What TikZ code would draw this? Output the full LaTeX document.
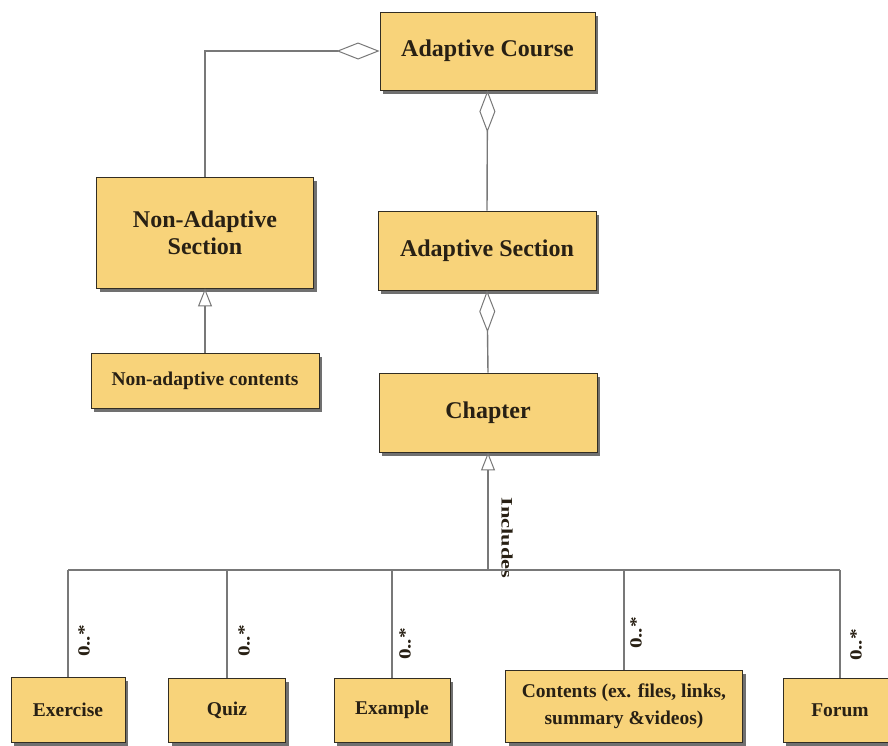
\documentclass[tikz,border=0pt]{standalone}
\usepackage{fontspec}
\setmainfont{Liberation Serif}
\usetikzlibrary{arrows.meta,shadows}
\definecolor{boxfill}{RGB}{248,211,122}
\definecolor{boxline}{RGB}{50,45,35}
\definecolor{wire}{RGB}{120,120,120}
\definecolor{ink}{RGB}{40,32,20}
\begin{document}
\begin{tikzpicture}[x=1pt,y=-1pt,
  umlbox/.style={draw=boxline, line width=0.9pt, fill=boxfill, align=center,
    text=ink, font=\bfseries, inner sep=2pt,
    drop shadow={shadow xshift=3pt, shadow yshift=-3.5pt, fill=black!80, opacity=0.7}},
  big/.style={font=\fontsize{24}{27}\selectfont\bfseries},
  small/.style={font=\fontsize{19.5}{23}\selectfont\bfseries},
  wireline/.style={draw=wire, line width=1.4pt},
  aggr/.style={wireline, -{Diamond[open, fill=white, length=43pt, width=17pt, line width=1pt]}},
  aggrstart/.style={wireline, {Diamond[open, fill=white, length=42pt, width=16pt, line width=1pt]}-},
  gen/.style={wireline, -{Triangle[open, fill=white, length=18pt, width=14pt, line width=1pt]}},
  mult/.style={rotate=90, xscale=1.25, text=ink, font=\fontsize{17}{19}\selectfont\bfseries, inner sep=1pt}
]
\useasboundingbox (0,0) rectangle (888,745);
\clip (0,0) rectangle (888,745);

% class boxes
\node[umlbox, big, minimum width=215pt, minimum height=78pt] (ac) at (487.5,51) {Adaptive Course};
\node[umlbox, big, minimum width=218pt, minimum height=79pt] (as) at (487,250.5) {Adaptive Section};
\node[umlbox, big, minimum width=218pt, minimum height=79pt] (ch) at (488,412.5) {Chapter};
\node[umlbox, big, minimum width=217pt, minimum height=111pt] (nas) at (205,232.5) {Non-Adaptive\\Section};
\node[umlbox, small, minimum width=228pt, minimum height=55pt] (nac) at (205,380.5) {Non-adaptive contents};

\node[umlbox, small, minimum width=114pt, minimum height=65pt] (ex) at (68,709.5) {Exercise};
\node[umlbox, small, minimum width=117pt, minimum height=64pt] (qz) at (227,710) {Quiz};
\node[umlbox, small, minimum width=116pt, minimum height=64pt] (eg) at (392,710) {Example};
\node[umlbox, small, minimum width=237pt, minimum height=72pt] (ct) at (624,706) {Contents (ex. files, links,\\[4pt]summary \&videos)};
\node[umlbox, small, minimum width=114pt, minimum height=64pt] (fo) at (840,710) {Forum};

% aggregations
\draw[aggr] (nas.north) |- (ac.west);
\draw[aggrstart] (ac.south) -- (as.north);
\draw[aggrstart] (as.south) -- (ch.north);

% generalisations
\draw[gen] (nac.north) -- (nas.south);

\coordinate (busL) at (68,570);
\coordinate (busR) at (840,570);
\draw[gen] (ch.south |- busL) -- (ch.south);
\node[rotate=-90, xscale=1.4, text=ink, font=\fontsize{16}{18}\selectfont\bfseries,
      inner sep=1pt] (incl) at (507,538) {Includes};
\draw[wireline] (busL) -- (busR);

% members with multiplicities
\foreach \n in {ex,qz,eg,ct,fo}{
  \draw[wireline] (\n.north |- busL) -- (\n.north);
}
\node[mult] (m1) at (84,641) {0..*};
\node[mult] (m2) at (244,641) {0..*};
\node[mult] (m3) at (405,644) {0..*};
\node[mult] (m4) at (636,633) {0..*};
\node[mult] (m5) at (856,645) {0..*};
\end{tikzpicture}
\end{document}
